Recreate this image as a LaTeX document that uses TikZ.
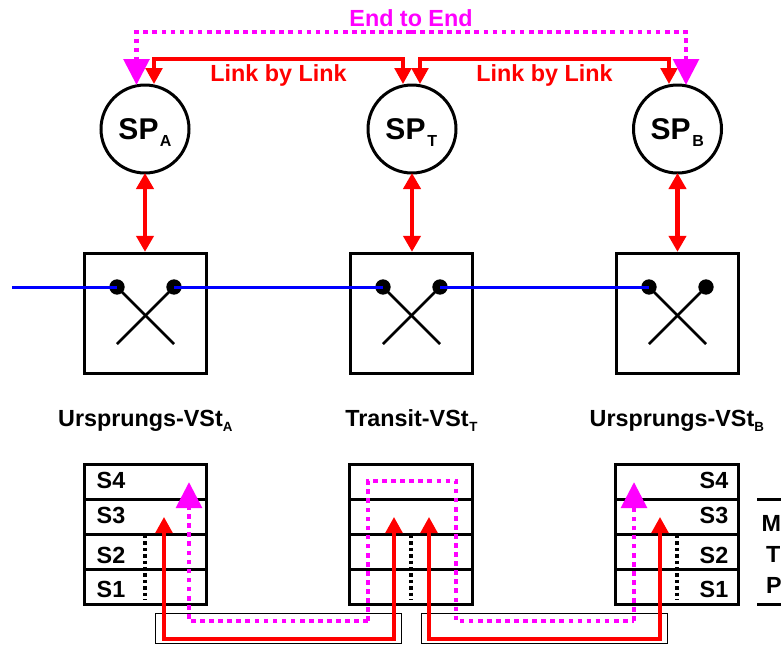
\documentclass[tikz,border=0pt]{standalone}
\usepackage{fontspec}
\setmainfont{Liberation Sans}
\usetikzlibrary{arrows.meta}
\tikzset{
  thick line/.style={line width=2.25pt},
  spnode/.style={circle,draw=black,thick line,minimum size=66pt,inner sep=0pt,outer sep=0pt},
  swbox/.style={rectangle,draw=black,thick line,minimum width=92pt,minimum height=90.5pt,outer sep=1pt},
  seg/.style={rectangle,draw=black,thick line,minimum width=92pt,minimum height=26.25pt,inner sep=0pt},
  thinbox/.style={rectangle,draw=black,line width=0.75pt,minimum width=185pt,minimum height=22.5pt,inner sep=0pt},
  contact/.style={circle,fill=black,minimum size=11.5pt,inner sep=0pt,outer sep=0pt},
  crossline/.style={draw=black,line width=1.9pt},
  blueline/.style={draw=blue,line width=2.25pt},
  redline/.style={draw=red,line width=2.6pt},
  redtip/.style={-{Triangle[length=12pt,width=12.5pt]}},
  reddouble/.style={draw=red,line width=3.2pt,{Triangle[length=12pt,width=12.75pt]}-{Triangle[length=12pt,width=12.75pt]}},
  magline/.style={draw=magenta,line width=3.7pt,dash pattern=on 3.5pt off 3.3pt},
  magtip/.style={-{Triangle[length=19.5pt,width=19pt]}},
  blackdash/.style={draw=black,line width=2.7pt,dash pattern=on 2.6pt off 2.2pt},
  big/.style={font=\fontsize{17.5}{20}\selectfont\bfseries,inner sep=0pt,outer sep=0pt},
  sptext/.style={font=\fontsize{22.5}{26}\selectfont\bfseries,inner sep=0pt,anchor=base},
  lab/.style={big,anchor=base},
  sub/.style={font=\fontsize{12}{14}\selectfont\bfseries,inner sep=0pt,anchor=base west},
  vsub/.style={font=\fontsize{10}{12}\selectfont\bfseries,inner sep=0pt,anchor=base west},
}
\definecolor{magenta}{RGB}{255,0,255}
\begin{document}
\begin{tikzpicture}[x=0.75pt,y=-0.75pt]
\useasboundingbox (0,0) rectangle (781,644);
% service points
\node[spnode] (spA) at (145,129) {};
\node[spnode] (spT) at (412,129) {};
\node[spnode] (spB) at (677.5,129) {};
\node[sptext] (tA) at (138.5,139) {SP};
\node[sptext] (tT) at (405.5,139) {SP};
\node[sptext] (tB) at (670.5,139) {SP};
\node[sub] (sA) at (159.5,146) {A};
\node[sub] (sT) at (427,146) {T};
\node[sub] (sB) at (692,146) {B};
% switching boxes
\node[swbox] (swA) at (145.5,313.5) {};
\node[swbox] (swT) at (411.5,313.5) {};
\node[swbox] (swB) at (677.5,313.5) {};
\foreach \n/\l/\r in {A/117/174,T/383/440,B/649/706}{
  \node[contact] (c1\n) at (\l,287) {};
  \node[contact] (c2\n) at (\r,287) {};
  \coordinate (e1\n) at (\r,344);
  \coordinate (e2\n) at (\l,344);
  \draw[crossline] (c1\n.center) -- (e1\n);
  \draw[crossline] (c2\n.center) -- (e2\n);
}
% blue line
\coordinate (bstart) at (12,287);
\draw[blueline] (bstart) -- (c1A.center);
\draw[blueline] (c2A.center) -- (c1T.center);
\draw[blueline] (c2T.center) -- (c1B.center);
% SP to switch
\draw[reddouble] (spA.south) -- (spA.south |- swA.north);
\draw[reddouble] (spT.south) -- (spT.south |- swT.north);
\draw[reddouble] (spB.south) -- (spB.south |- swB.north);
% top links
\coordinate (r1) at (154,84);
\coordinate (r2) at (403,84);
\coordinate (r3) at (420,84);
\coordinate (r4) at (669,84);
\draw[redline,redtip] (r2 |- 0,59) -| (r1);
\draw[redline,redtip] (r1 |- 0,59) -| (r2);
\draw[redline,redtip] (r4 |- 0,59) -| (r3);
\draw[redline,redtip] (r3 |- 0,59) -| (r4);
\coordinate (m1) at (136.5,85);
\coordinate (m2) at (686,85);
\draw[magline,magtip] (411,32) -| (m1);
\draw[magline,magtip] (411,32) -| (m2);
\node[big,text=magenta] (e2e) at (411,18) {End to End};
\node[big,text=red] (lbl1) at (278.5,75) {Link by Link};
\node[big,text=red] (lbl2) at (544.5,75) {Link by Link};
% VSt labels
\node[lab] (vA) at (140.5,426) {Ursprungs-VSt};
\node[vsub] (vAs) at (222.5,431) {A};
\node[lab] (vT) at (407,426) {Transit-VSt};
\node[vsub] (vTs) at (469,431) {T};
\node[lab] (vB) at (672,426) {Ursprungs-VSt};
\node[vsub] (vBs) at (754,431) {B};
% stacks
\foreach \n/\x in {A/145.5,T/411,B/677}{
  \node[seg] (\n4) at (\x,481.5) {};
  \node[seg] (\n3) at (\x,516.5) {};
  \node[seg] (\n2) at (\x,551.5) {};
  \node[seg] (\n1) at (\x,586.5) {};
}
\foreach \n/\x in {A/145,T/411,B/677}{
  \coordinate (du\n) at (\x,535);
  \coordinate (dl\n) at (\x,600);
  \draw[blackdash] (du\n) -- (dl\n);
}
\node[lab] (lA4) at (111,488) {S4};
\node[lab] (lA3) at (111,523) {S3};
\node[lab] (lA2) at (111,563) {S2};
\node[lab] (lA1) at (111,597) {S1};
\node[lab] (lB4) at (714,488) {S4};
\node[lab] (lB3) at (714,523) {S3};
\node[lab] (lB2) at (714,563) {S2};
\node[lab] (lB1) at (714,597) {S1};
% right edge
\coordinate (ru) at (757,499);
\coordinate (rr) at (781,499);
\coordinate (lu) at (757,604);
\coordinate (lr) at (781,604);
\draw[draw=black,thick line] (ru) -- (rr);
\draw[draw=black,thick line] (lu) -- (lr);
\node[lab,anchor=base west] (tM) at (761.5,531) {M};
\node[lab,anchor=base west] (tTT) at (766,562) {T};
\node[lab,anchor=base west] (tP) at (766,593) {P};
% bottom links
\node[thinbox] (bx1) at (278.5,628) {};
\node[thinbox] (bx2) at (544.5,628) {};
\coordinate (ra1) at (164,517);
\coordinate (ra2) at (394,517);
\coordinate (ra3) at (429,517);
\coordinate (ra4) at (660,517);
\draw[redline,redtip] (279,639) -| (ra1);
\draw[redline,redtip] (279,639) -| (ra2);
\draw[redline,redtip] (544,639) -| (ra3);
\draw[redline,redtip] (544,639) -| (ra4);
\coordinate (ma1) at (189,482);
\coordinate (ma2) at (634,482);
\draw[magline,magtip] (368,621) -| (ma1);
\draw[magline] (368,621) -- (368,481) -- (456,481) -- (456,621) -- (634,621);
\draw[magline,magtip] (634,621) -- (ma2);
\end{tikzpicture}
\end{document}
